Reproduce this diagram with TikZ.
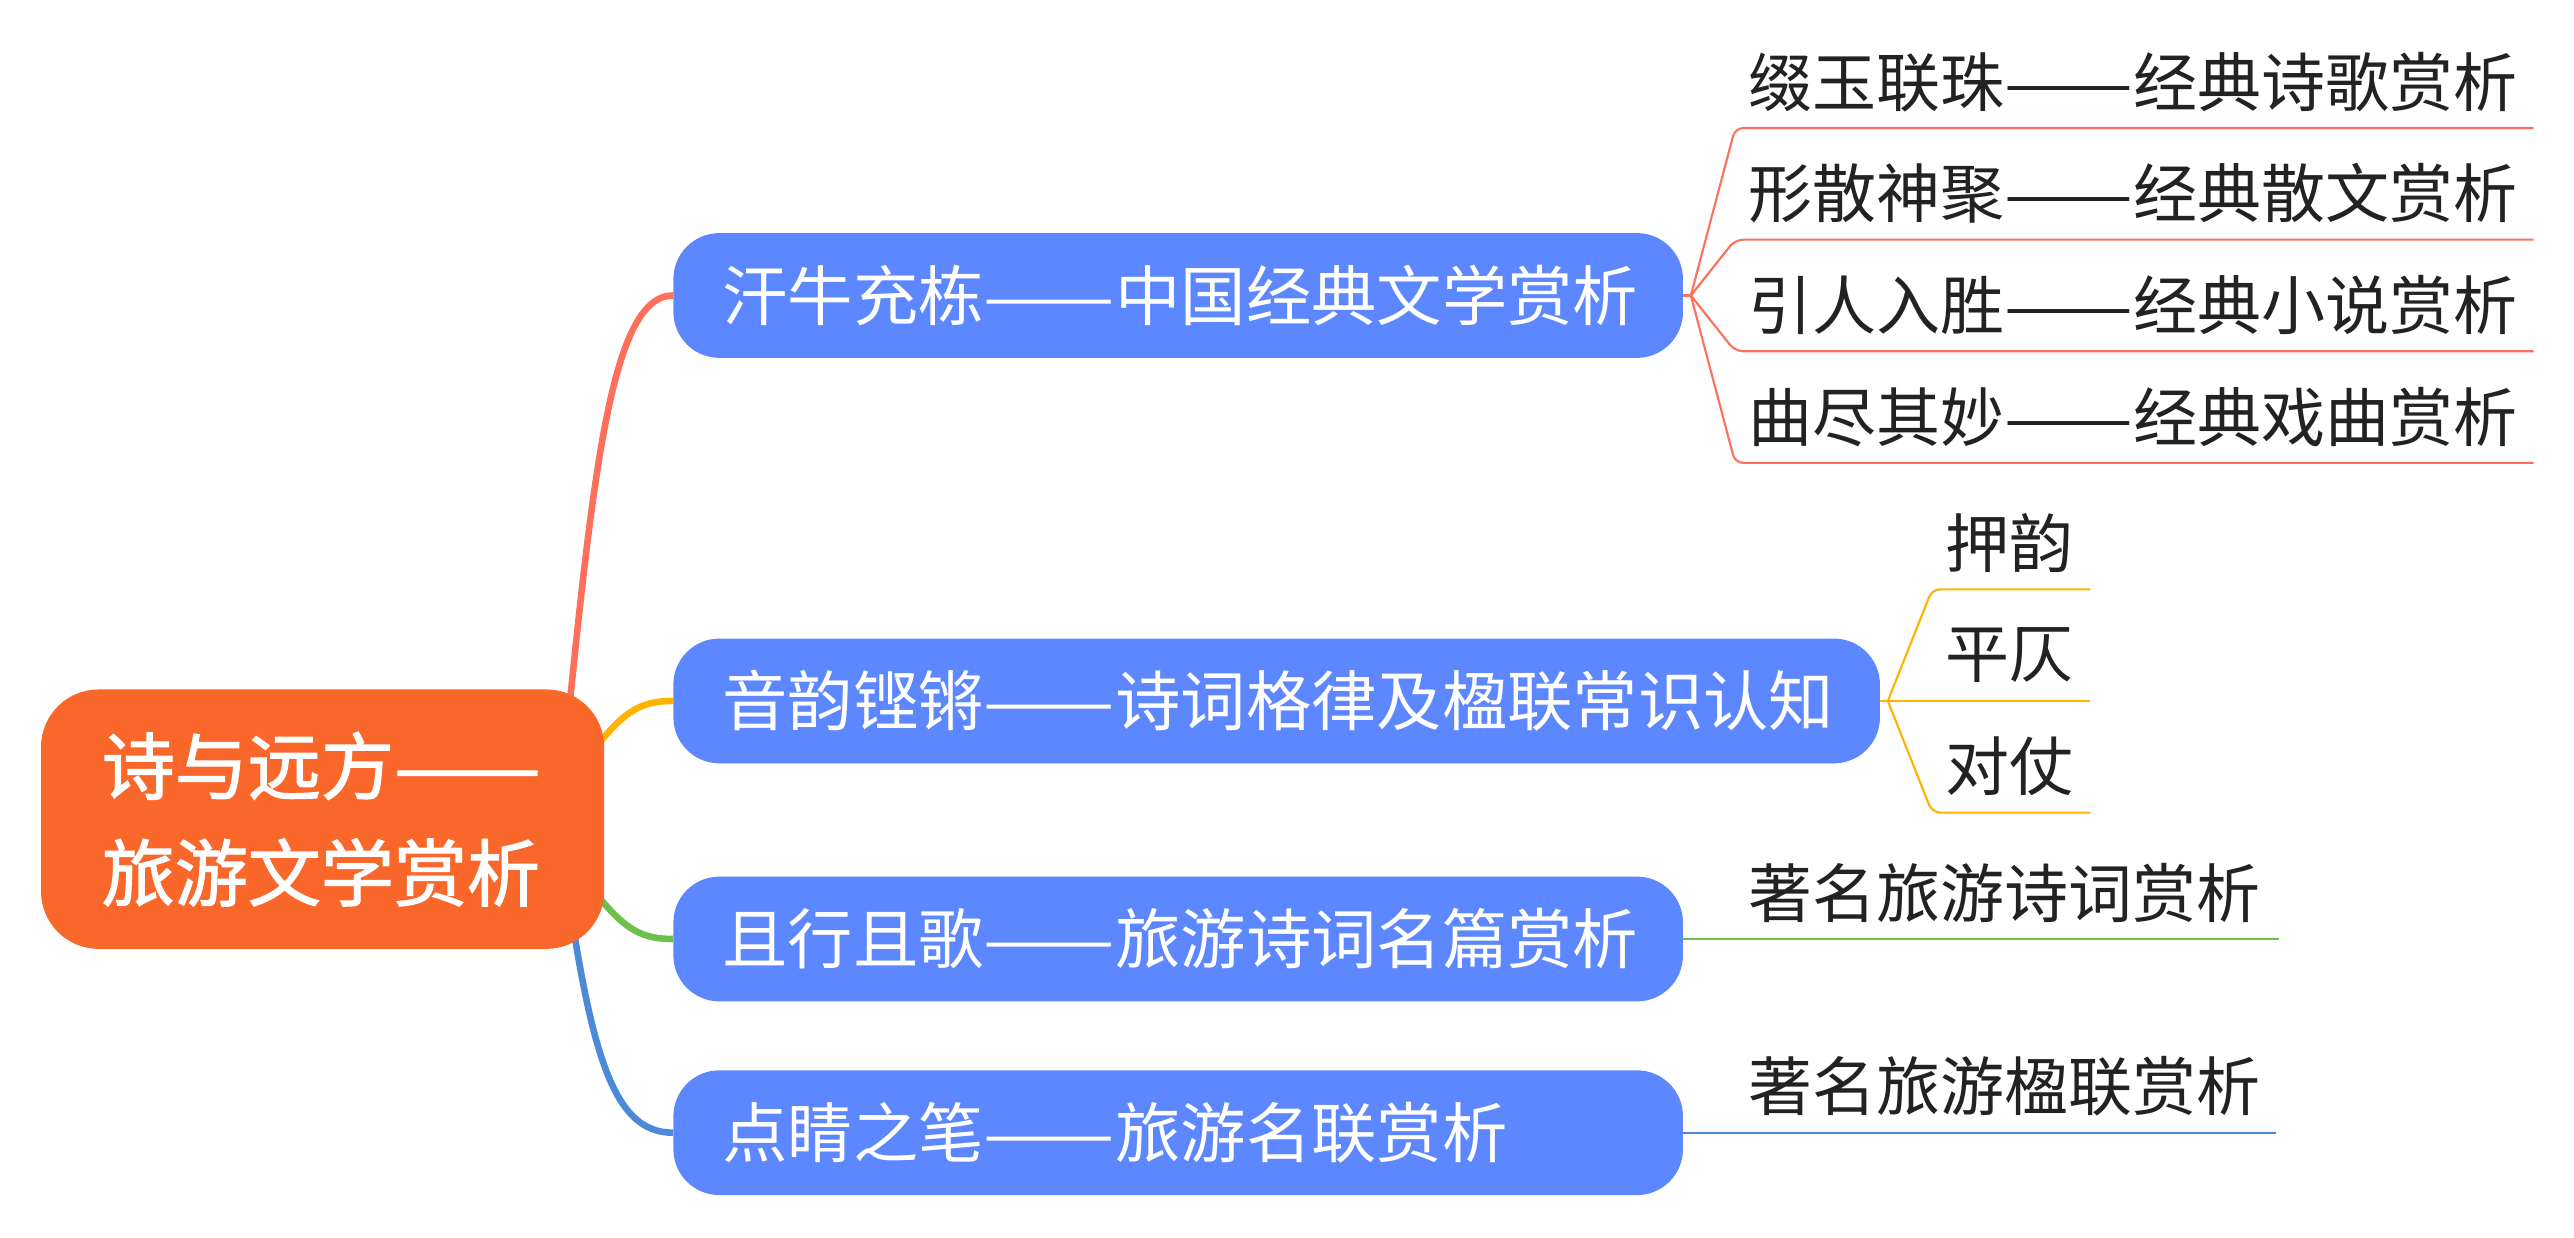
\documentclass[tikz,border=0pt]{standalone}
\usepackage{graphicx}
\usepackage{fontspec}
\setmainfont{Noto Sans CJK SC}
\newfontfamily\rootfont[FakeBold=1.6]{Noto Sans CJK SC}
\usetikzlibrary{backgrounds}
\definecolor{rootc}{HTML}{F9682A}
\definecolor{topc}{HTML}{5C87FF}
\definecolor{redc}{HTML}{FF705C}
\definecolor{yelc}{HTML}{FFB300}
\definecolor{grnc}{HTML}{6CC04B}
\definecolor{bluc}{HTML}{4A8AD8}
\definecolor{txt}{HTML}{222222}
\newcommand\dsh{\scalebox{1.2}[1]{——}}
\begin{document}
\begin{tikzpicture}[x=1pt,y=-1pt,
  rootbox/.style={fill=rootc, rounded corners=35pt, text=white, font=\rootfont\fontsize{44.5}{65}\selectfont, align=left, text width=269pt, inner sep=0pt, minimum width=343pt, minimum height=158pt},
  topic/.style={fill=topc, rounded corners=28pt, text=white, font=\fontsize{39.8}{46}\selectfont, align=left, inner xsep=30pt, inner ysep=0pt, minimum height=76pt, anchor=west},
  leaf/.style={text=txt, font=\fontsize{39}{46}\selectfont, anchor=south west, inner xsep=8pt, inner ysep=0pt, minimum height=56pt, align=left},
  mainline/.style={line width=4pt},
  subline/.style={line width=1.3pt, rounded corners=5pt}]
\useasboundingbox (0,0) rectangle (1568,754);

% root
\node[rootbox] (root) at (196.5,499) {诗与远方\dsh\\旅游文学赏析};

% topics
\node[topic, text width=555pt] (b1) at (410,180) {汗牛充栋\dsh 中国经典文学赏析};
\node[topic, text width=675pt] (b2) at (410,427) {音韵铿锵\dsh 诗词格律及楹联常识认知};
\node[topic, text width=555pt] (b3) at (410,572) {且行且歌\dsh 旅游诗词名篇赏析};
\node[topic, text width=555pt] (b4) at (410,690) {点睛之笔\dsh 旅游名联赏析};

% leaves of b1
\node[leaf, text width=470pt] (r1) at (1057,78) {缀玉联珠\dsh 经典诗歌赏析};
\node[leaf, text width=470pt] (r2) at (1057,146) {形散神聚\dsh 经典散文赏析};
\node[leaf, text width=470pt] (r3) at (1057,214) {引人入胜\dsh 经典小说赏析};
\node[leaf, text width=470pt] (r4) at (1057,282) {曲尽其妙\dsh 经典戏曲赏析};

% leaves of b2
\node[leaf, text width=80pt] (y1) at (1177,359) {押韵};
\node[leaf, text width=80pt] (y2) at (1177,427) {平仄};
\node[leaf, text width=80pt] (y3) at (1177,495) {对仗};

% leaves of b3, b4
\node[leaf, text width=315pt] (g1) at (1057,572) {著名旅游诗词赏析};
\node[leaf, text width=313pt] (l1) at (1057,690) {著名旅游楹联赏析};

% main curves
\coordinate (cs1) at (340,499);
\coordinate (cs2) at (345,480);
\coordinate (cs3) at (345,520);
\coordinate (cs4) at (340,499);
\begin{scope}[on background layer]
\draw[mainline, redc] (cs1) .. controls (360,300) and (370,180) .. (b1.west);
\draw[mainline, yelc] (cs2) .. controls (375,437) and (385,427) .. (b2.west);
\draw[mainline, grnc] (cs3) .. controls (375,562) and (385,572) .. (b3.west);
\draw[mainline, bluc] (cs4) .. controls (358,640) and (372,690) .. (b4.west);
\end{scope}

% sub connectors
\coordinate (j1) at (1030,180);
\draw[subline, redc] (b1.east) -- (j1);
\foreach \n in {r1,r2,r3,r4}{
  \draw[subline, redc] (j1) -- (\n.south west) -- (\n.south east);
}
\coordinate (j2) at (1150,427);
\draw[subline, yelc] (b2.east) -- (j2);
\foreach \n in {y1,y2,y3}{
  \draw[subline, yelc] (j2) -- (\n.south west) -- (\n.south east);
}
\draw[subline, grnc] (b3.east) -- (g1.south west) -- (g1.south east);
\draw[subline, bluc] (b4.east) -- (l1.south west) -- (l1.south east);
\end{tikzpicture}
\end{document}
